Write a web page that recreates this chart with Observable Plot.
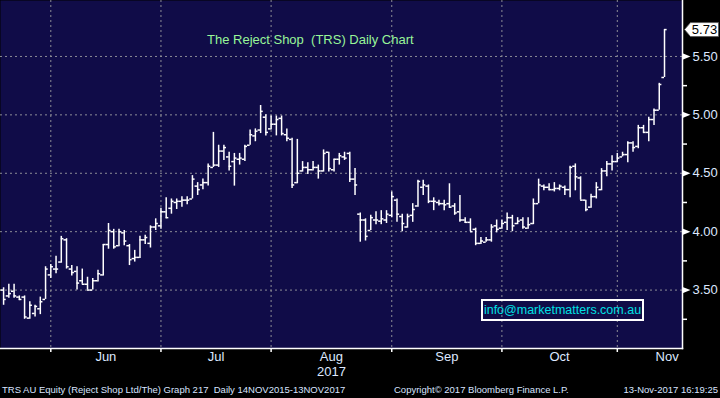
<!DOCTYPE html>
<html><head><meta charset="utf-8">
<script src="https://cdn.jsdelivr.net/npm/d3@7"></script>
<script src="https://cdn.jsdelivr.net/npm/@observablehq/plot@0.6"></script>
<style>
html,body{margin:0;padding:0;background:#000;}
#wrap{position:relative;width:720px;height:398px;overflow:hidden;background:#000;font-family:"Liberation Sans",Arial,sans-serif;}
#chart{position:absolute;left:0;top:0;}
#title{position:absolute;left:207px;top:32px;color:#98f598;font-size:13px;white-space:pre;line-height:16px;}
#info{position:absolute;left:481px;top:299px;width:159px;height:18px;border:2px solid #fff;color:#00e0e4;font-size:12.5px;line-height:18px;text-align:center;white-space:nowrap;}
.ft{position:absolute;top:384px;color:#d8e4ff;font-size:9.5px;line-height:12px;white-space:pre;}
</style></head>
<body>
<div id="wrap">
<div id="chart"></div>
<div id="title">The Reject Shop  (TRS) Daily Chart</div>
<div id="info">info@marketmatters.com.au</div>
<div class="ft" style="left:2px">TRS AU Equity (Reject Shop Ltd/The) Graph 217  Daily 14NOV2015-13NOV2017</div>
<div class="ft" style="left:394px">Copyright© 2017 Bloomberg Finance L.P.</div>
<div class="ft" style="right:2px">13-Nov-2017 16:19:25</div>
</div>
<script>
// ---- data: daily OHLC, TRS, trading days from 18 May 2017 to 13 Nov 2017 ----
const startDate = "2017-05-18";
const holidays = ["2017-06-12"];
const open = [3.50,3.45,3.49,3.44,3.44,3.26,3.30,3.34,3.42,3.63,
3.68,3.74,3.93,3.68,3.66,3.58,3.55,3.50,3.58,3.63,3.89,4.00,3.88,3.99,3.88,3.77,3.78,3.93,3.90,4.04,4.05,
4.17,4.20,4.25,4.26,4.27,4.28,4.39,4.40,4.42,4.55,4.57,4.69,4.64,4.60,4.62,4.62,4.74,4.82,4.87,4.98,4.88,
4.92,4.97,4.83,4.79,4.42,4.52,4.55,4.53,4.55,4.52,4.68,4.53,4.62,4.64,4.67,4.45,4.15,4.10,4.01,4.10,4.09,4.10,4.14,
4.27,4.13,4.04,4.14,4.22,4.38,4.39,4.26,4.25,4.24,4.24,4.22,4.17,4.10,4.08,4.02,3.90,3.91,3.93,4.05,4.03,
4.08,4.12,4.07,4.10,4.03,4.07,4.24,4.39,4.38,4.36,4.37,4.38,4.36,4.56,4.46,4.27,4.21,4.30,4.36,4.52,4.58,4.60,
4.64,4.66,4.76,4.73,4.89,4.85,4.96,5.04,5.32];
const high = [3.52,3.55,3.55,3.45,3.45,3.40,3.37,3.44,3.70,3.72,
3.79,3.96,3.94,3.71,3.70,3.68,3.61,3.60,3.67,3.89,4.07,4.02,4.02,4.01,3.89,3.84,3.96,3.97,4.05,4.11,4.20,
4.29,4.28,4.28,4.30,4.30,4.48,4.42,4.45,4.58,4.85,4.74,4.74,4.68,4.67,4.67,4.74,4.87,4.88,5.08,5.00,4.99,
4.99,4.99,4.88,4.80,4.79,4.60,4.59,4.60,4.57,4.70,4.68,4.62,4.67,4.68,4.68,4.54,4.16,4.11,4.14,4.17,4.18,4.18,4.34,
4.28,4.15,4.15,4.24,4.44,4.44,4.40,4.29,4.27,4.27,4.41,4.24,4.31,4.12,4.11,4.03,3.95,3.95,4.06,4.10,4.10,
4.16,4.14,4.12,4.12,4.12,4.28,4.45,4.40,4.41,4.42,4.40,4.39,4.56,4.58,4.47,4.27,4.32,4.42,4.54,4.60,4.65,4.67,
4.68,4.77,4.77,4.91,4.91,4.98,5.05,5.27,5.73];
const low = [3.37,3.43,3.43,3.41,3.25,3.25,3.27,3.29,3.42,3.60,
3.64,3.73,3.68,3.62,3.50,3.55,3.50,3.50,3.57,3.62,3.85,3.85,3.87,3.88,3.71,3.74,3.77,3.89,3.86,4.01,4.02,
4.11,4.15,4.19,4.21,4.23,4.28,4.31,4.36,4.39,4.55,4.55,4.61,4.52,4.39,4.57,4.60,4.74,4.77,4.84,4.82,4.87,
4.82,4.82,4.77,4.37,4.41,4.51,4.49,4.52,4.45,4.51,4.51,4.51,4.57,4.61,4.42,4.31,3.91,3.92,4.01,4.06,4.06,4.07,4.12,
4.08,4.00,4.03,4.08,4.21,4.31,4.24,4.18,4.22,4.18,4.20,4.14,4.08,4.07,4.00,3.88,3.89,3.91,3.91,3.99,4.02,
4.01,4.00,4.06,4.02,4.02,4.06,4.24,4.35,4.35,4.34,4.35,4.31,4.29,4.35,4.27,4.17,4.20,4.28,4.35,4.47,4.52,4.59,
4.64,4.59,4.68,4.71,4.84,4.77,4.91,5.04,5.32];
const close = [3.42,3.47,3.45,3.42,3.27,3.37,3.36,3.40,3.68,3.70,
3.68,3.94,3.70,3.65,3.56,3.55,3.50,3.58,3.64,3.89,4.01,3.87,4.00,3.92,3.76,3.78,3.93,3.95,4.04,4.07,4.17,
4.12,4.26,4.26,4.27,4.27,4.45,4.36,4.42,4.56,4.57,4.69,4.72,4.56,4.63,4.63,4.73,4.83,4.86,5.03,4.85,4.92,
4.96,4.84,4.80,4.40,4.50,4.55,4.53,4.55,4.52,4.67,4.54,4.62,4.65,4.63,4.45,4.40,4.10,3.96,4.12,4.10,4.11,4.15,4.30,
4.15,4.07,4.13,4.19,4.43,4.40,4.26,4.26,4.24,4.23,4.21,4.16,4.10,4.08,4.00,3.90,3.92,3.93,4.04,4.02,4.07,
4.12,4.05,4.09,4.04,4.06,4.24,4.40,4.38,4.36,4.37,4.39,4.36,4.55,4.47,4.27,4.19,4.30,4.38,4.52,4.58,4.60,4.63,
4.66,4.76,4.72,4.89,4.85,4.96,5.04,5.26,5.73];
const monthNames = ["Jan","Feb","Mar","Apr","May","Jun","Jul","Aug","Sep","Oct","Nov","Dec"];
const yearLabel = "2017";
const yearLabelMonth = "Aug";
const majorTicks = [3.5, 4.0, 4.5, 5.0, 5.5];
const minorTicks = [3.25, 3.75, 4.25, 4.75, 5.25];

// ---- trading calendar ----
const n = close.length;
const dates = [];
{
  const d = new Date(startDate + "T00:00:00Z");
  const hol = new Set(holidays);
  while (dates.length < n) {
    const wd = d.getUTCDay();
    const iso = d.toISOString().slice(0,10);
    if (wd !== 0 && wd !== 6 && !hol.has(iso)) dates.push(new Date(d));
    d.setUTCDate(d.getUTCDate() + 1);
  }
}
const bars = d3.range(n).map(i => ({i, date: dates[i], open: open[i], high: high[i], low: low[i], close: close[i]}));
// month ends (last trading day of each month)
const monthEnds = [];
for (let i = 0; i < n - 1; i++) if (dates[i].getUTCMonth() !== dates[i+1].getUTCMonth()) monthEnds.push(i);
// month label positions
const labels = [];
for (let k = 0; k < monthEnds.length; k++) {
  const a = monthEnds[k];
  const m = dates[a + 1].getUTCMonth();
  const b = k + 1 < monthEnds.length ? monthEnds[k+1] : null;
  const pos = b !== null ? (a + b) / 2 : Math.min(a + 10.5, n - 0.5);
  labels.push({pos, name: monthNames[m]});
}
const labelMap = new Map(labels.map(d => [d.pos, d.name]));
const yearPos = labels.find(d => d.name === yearLabelMonth).pos;

const navy = "#100c48";
const grid = "#8d8d96";
const txt = "#dde8ff";

const triSymbol = {draw(ctx) { ctx.moveTo(0,-3.2); ctx.lineTo(8,0); ctx.lineTo(0,3.2); ctx.closePath(); }};
const tagSymbol = {draw(ctx) { ctx.moveTo(2,0); ctx.lineTo(8,-7); ctx.lineTo(36,-7); ctx.lineTo(36,7); ctx.lineTo(8,7); ctx.closePath(); }};

const chart = Plot.plot({
  width: 720, height: 380,
  marginLeft: 0, marginRight: 38, marginTop: 0, marginBottom: 32,
  x: {type: "linear", domain: [-0.59, n - 1 + 3.43], axis: null},
  y: {domain: [3.0, 5.979], axis: null},
  style: {background: "#000", fontFamily: "'Liberation Sans', Arial, sans-serif", overflow: "visible"},
  marks: [
    Plot.frame({fill: navy, stroke: null}),
    Plot.ruleY(majorTicks, {stroke: grid, strokeDasharray: "2,3", strokeWidth: 1}),
    Plot.ruleX(monthEnds, {stroke: grid, strokeDasharray: "2,3", strokeWidth: 1}),
    Plot.ruleX(bars, {x: "i", y1: "low", y2: "high", stroke: "white", strokeWidth: 1.5}),
    Plot.ruleY(bars, {y: "open", x1: d => d.i - 0.5, x2: "i", stroke: "white", strokeWidth: 1.5}),
    Plot.ruleY(bars, {y: "close", x1: "i", x2: d => d.i + 0.5, stroke: "white", strokeWidth: 1.5}),
    Plot.frame({anchor: "bottom", stroke: "white", strokeWidth: 1.5}),
    Plot.frame({anchor: "right", stroke: "white", strokeWidth: 1.5}),
    Plot.axisX({ticks: monthEnds, tickSize: 4, tickFormat: () => "", label: null, stroke: "white", strokeWidth: 1.5}),
    Plot.axisX({ticks: labels.map(d => d.pos), tickSize: 0, tickPadding: 3, label: null, tickFormat: v => labelMap.get(v), fontSize: 13, fill: txt}),
    Plot.text([yearLabel], {x: () => yearPos, text: d => d, frameAnchor: "bottom", dy: 27, fontSize: 13, fill: txt}),
    Plot.axisY({anchor: "right", ticks: minorTicks, tickSize: 4, tickFormat: () => "", label: null, stroke: "white", strokeWidth: 1.5}),
    Plot.axisY({anchor: "right", ticks: majorTicks, tickSize: 0, tickPadding: 10, label: null, tickFormat: d3.format(".2f"), fontSize: 13, fill: txt}),
    Plot.dot(majorTicks, {y: d => d, frameAnchor: "right", symbol: triSymbol, fill: "white", stroke: null, r: 3}),
    Plot.dot([close[n-1]], {y: d => d, frameAnchor: "right", symbol: tagSymbol, fill: "white", stroke: "#555", strokeWidth: 0.8, r: 3}),
    Plot.text([close[n-1]], {y: d => d, frameAnchor: "right", dx: 22, textAnchor: "middle", text: d => d3.format(".2f")(d), fill: "#000", fontSize: 13})
  ]
});
document.getElementById("chart").appendChild(chart);
</script>
</body></html>
